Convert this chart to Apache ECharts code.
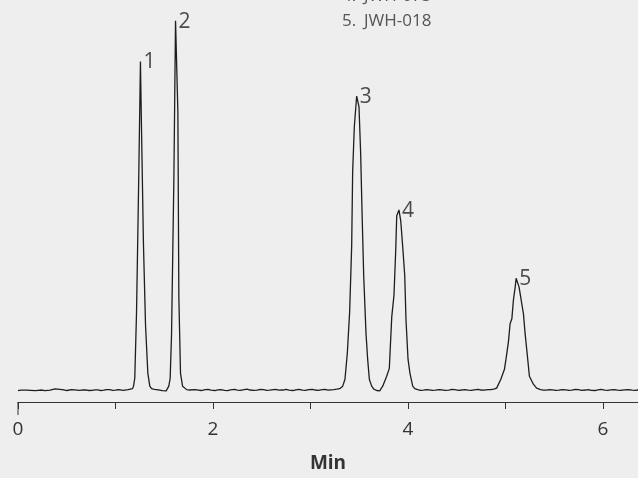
<!DOCTYPE html>
<html>
<head>
<meta charset="utf-8">
<script src="https://cdn.jsdelivr.net/npm/echarts@6/dist/echarts.min.js"></script>
<style>
html,body{margin:0;padding:0;background:#eeeeee;}
#chart{width:638px;height:478px;}
</style>
</head>
<body>
<div id="chart"></div>
<script>
// Chromatogram trace segments: [time (min), response]
const baselineStart = [[0.00,0.5],[0.03,0.9],[0.05,0.4],[0.08,1.0],[0.10,0.3],[0.13,0.8],[0.15,0.9],[0.18,0.4],[0.20,0.6],[0.23,1.1],[0.25,1.0],[0.28,0.5],[0.30,0.7],[0.33,1.0],[0.35,1.5],[0.38,2.2],[0.40,2.8],[0.43,1.8],[0.47,1.2],[0.50,0.6],[0.52,0.9],[0.55,1.4],[0.58,1.3],[0.60,0.7],[0.63,0.8],[0.67,1.3],[0.70,1.1],[0.73,0.6],[0.76,0.7],[0.79,1.3],[0.82,1.2],[0.85,0.6],[0.88,0.9],[0.91,1.5],[0.94,1.4],[0.97,0.8],[1.00,1.0],[1.03,1.6],[1.05,1.3],[1.08,0.8],[1.10,1.1],[1.13,1.5],[1.15,1.6],[1.175,2.5]];
const peak1 = [[1.185,5],[1.198,13],[1.216,80],[1.239,218],[1.256,333],[1.267,265],[1.287,148],[1.308,67],[1.332,18],[1.352,5]];
const valley12 = [[1.37,2.5],[1.40,1.8],[1.44,1.2],[1.48,0.4],[1.52,0.2],[1.538,1.8]];
const peak2 = [[1.547,5],[1.561,13],[1.575,57],[1.599,215],[1.616,374],[1.640,282],[1.650,95],[1.667,18],[1.688,5]];
const baselineMid = [[1.70,3],[1.73,1.5],[1.76,1.1],[1.78,0.8],[1.82,1.4],[1.85,1.0],[1.88,0.6],[1.92,1.4],[1.95,1.7],[1.98,0.9],[2.02,0.6],[2.05,1.2],[2.08,1.6],[2.12,0.8],[2.15,0.5],[2.18,1.3],[2.22,1.7],[2.25,1.0],[2.28,0.7],[2.32,1.5],[2.35,1.9],[2.38,1.1],[2.42,0.7],[2.45,0.9],[2.48,1.6],[2.52,1.4],[2.55,0.8],[2.58,1.0],[2.62,1.5],[2.65,1.6],[2.68,0.9],[2.72,1.1],[2.75,1.7],[2.78,0.9],[2.82,0.6],[2.85,1.3],[2.88,1.8],[2.92,1.0],[2.95,0.7],[2.98,1.5],[3.02,1.8],[3.05,1.1],[3.08,0.8],[3.12,1.4],[3.15,1.7],[3.18,1.0],[3.21,1.3],[3.24,1.5],[3.27,1.9],[3.30,2.5]];
const peak3 = [[3.331,5],[3.354,12],[3.378,38],[3.402,80],[3.423,147],[3.433,222],[3.450,267],[3.474,298],[3.498,287],[3.515,240],[3.529,182],[3.546,117],[3.570,58],[3.587,32],[3.604,12],[3.628,5]];
const valley34 = [[3.65,2],[3.68,0.6],[3.71,0.3],[3.73,2]];
const peak4 = [[3.741,5],[3.782,15],[3.809,23],[3.834,75],[3.857,97],[3.875,143],[3.885,177],[3.908,183],[3.926,172],[3.947,145],[3.967,117],[3.980,72],[4.001,32],[4.021,18],[4.049,5]];
const baselineLate = [[4.07,2.5],[4.10,1.5],[4.13,0.8],[4.16,1.0],[4.19,1.6],[4.22,1.3],[4.25,0.7],[4.28,0.9],[4.32,1.5],[4.35,1.2],[4.38,0.7],[4.42,1.0],[4.45,1.7],[4.48,1.4],[4.52,0.8],[4.55,1.1],[4.58,1.6],[4.62,0.9],[4.65,0.7],[4.68,1.3],[4.72,1.8],[4.75,1.1],[4.78,1.0],[4.82,1.6],[4.85,1.4],[4.88,2.0],[4.91,3]];
const peak5 = [[4.928,5],[4.953,12],[4.990,22],[5.007,33],[5.031,50],[5.048,68],[5.066,73],[5.082,92],[5.100,105],[5.110,114],[5.127,113],[5.140,105],[5.158,103],[5.185,78],[5.202,58],[5.226,35],[5.246,15],[5.287,7]];
const baselineEnd = [[5.32,3],[5.36,1.5],[5.39,0.9],[5.42,1.0],[5.45,1.6],[5.48,1.3],[5.52,0.7],[5.55,0.9],[5.58,1.5],[5.62,1.2],[5.65,0.7],[5.68,1.0],[5.72,1.7],[5.75,1.4],[5.78,0.8],[5.82,1.1],[5.85,1.6],[5.88,0.8],[5.92,0.6],[5.95,1.2],[5.98,1.7],[6.02,1.0],[6.05,0.7],[6.08,1.3],[6.12,1.6],[6.15,0.9],[6.18,0.7],[6.22,1.2],[6.26,1.6],[6.30,1.0],[6.33,0.8],[6.36,1.1]];

const peakTimes = [1.256, 1.616, 3.474, 3.908, 5.110];
const peakHeights = [333, 374, 298, 183, 114];
const peakNames = ['1','2','3','4','5'];

const xTickLabels = ['0','','2','','4','','6'];
const compoundNums = ['4.','5.'];
const compoundNames = ['JWH-073','JWH-018'];

const trace = [].concat(baselineStart, peak1, valley12, peak2, baselineMid, peak3, valley34, peak4, baselineLate, peak5, baselineEnd);

const chart = echarts.init(document.getElementById('chart'), null, {renderer:'canvas'});
const FONT = 'Open Sans';

const graphics = [];
compoundNums.forEach((n, i) => {
  graphics.push({type:'text', left:342, top:-12 + i*24.3, style:{text:n, font:'17px "Open Sans"', fill:'#555'}});
  graphics.push({type:'text', left:364, top:-12 + i*24.3, style:{text:compoundNames[i], font:'17px "Open Sans"', fill:'#555'}});
});

chart.setOption({
  backgroundColor:'#eeeeee',
  animation:false,
  grid:{left:18, right:0, top:0, bottom:72},
  xAxis:{
    type:'value', min:0, max:6.36, interval:1,
    axisLine:{show:true, onZero:false, lineStyle:{color:'#333', width:1}},
    axisTick:{show:true, length:7, lineStyle:{color:'#333', width:1}},
    splitLine:{show:false},
    axisLabel:{
      color:'#333', fontSize:19, fontFamily:FONT, margin:18, showMaxLabel:false,
      formatter:(v)=> xTickLabels[Math.round(v)] || ''
    },
    name:'Min', nameLocation:'middle', nameGap:52,
    nameTextStyle:{color:'#333', fontSize:19, fontWeight:'bold', fontFamily:FONT}
  },
  yAxis:{
    type:'value', min:-11, max:395, show:false
  },
  graphic: graphics,
  series:[
    {
      type:'line', data:trace, showSymbol:false, symbol:'none', smooth:false,
      lineStyle:{color:'#1e1e1e', width:1.3}, clip:false, z:3
    },
    {
      type:'scatter', data:peakTimes.map((t,i)=>[t, peakHeights[i], peakNames[i]]),
      symbolSize:0, itemStyle:{color:'transparent'}, z:4, silent:true,
      label:{show:true, position:'right', distance:3, offset:[0,1],
        formatter:(p)=>p.data[2], color:'#222', fontSize:21, fontFamily:FONT}
    }
  ]
});

// longer tick at origin, positioned through the axis scales
const p0 = chart.convertToPixel({gridIndex:0}, [0, -11]);
chart.setOption({graphic: graphics.concat([{type:'line', shape:{x1:p0[0], y1:p0[1], x2:p0[0], y2:p0[1]+13}, style:{stroke:'#333', lineWidth:1}}])});
</script>
</body>
</html>
